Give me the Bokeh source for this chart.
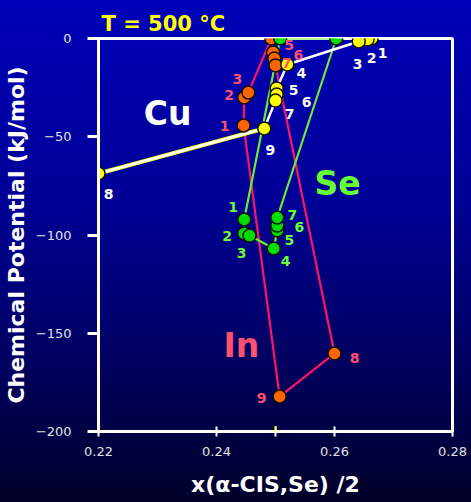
from bokeh.plotting import figure
from bokeh.models import FixedTicker, Range1d, Label, ColumnDataSource
from bokeh.core.properties import value
from bokeh.embed import file_html
from bokeh.resources import INLINE

# ---- data ----
x_ticks = [0.22, 0.24, 0.25, 0.26, 0.28]
hl_ticks = [0.25]
y_ticks = [0, -50, -100, -150, -200]

point_ids = ["1", "2", "3", "4", "5", "6", "7", "8", "9"]

cu_x = [0.2663, 0.2656, 0.2641, 0.2520, 0.2502, 0.2502, 0.2500, 0.2200, 0.2481]
cu_y = [0.0, -0.5, -1.5, -13.2, -25.4, -28.5, -31.6, -68.7, -45.8]
cu_path = [0, 1, 2, 3, 4, 5, 6, 8, 7]
cu_tail = [8, 7]

in_x = [0.2446, 0.2447, 0.2454, 0.2493, 0.2496, 0.2498, 0.2500, 0.2600, 0.2507]
in_y = [-44.3, -30.0, -27.5, 0.0, -7.1, -10.2, -13.7, -160.3, -182.2]
in_path = [0, 1, 2, 3, 4, 5, 6, 7, 8, 0]

se_x = [0.2447, 0.2447, 0.2456, 0.2497, 0.2503, 0.2503, 0.2503, 0.2603, 0.2508]
se_y = [-92.1, -99.2, -100.3, -106.9, -97.7, -95.2, -91.1, 0.0, 0.0]
se_path = [0, 1, 2, 3, 4, 5, 6, 7, 8, 0]

# ---- label placement (pixels) ----
cu_dx = [11, 4, -1, 14, 17, 30, 14, 10, 6]
cu_dy = [14, 19, 23, 9, 2, 7, 13, 21, 22]
in_dx = [-19, -15, -11, -8, 16, 24, 11, 20, -18]
in_dy = [0, -2, -14, -17, -7, -4, -2, 5, 1]
se_dx = [-11, -17, -8, 12, 12, 22, 15, 8, 6]
se_dy = [-12, 3, 17, 12, 10, 1, -3, -15, -15]

WHITE = "#ffffff"
TICKC = "#e0e0e0"
YELLOW = "#ffff00"
IN_LINE = "#ff1464"
IN_TEXT = "#ff5070"
IN_PT = "#ff6400"
SE_LINE = "#66ee33"
SE_TEXT = "#66ff33"
SE_PT = "#00dd00"

p = figure(width=471, height=502, output_backend="svg", toolbar_location=None,
           x_range=Range1d(0.22, 0.28), y_range=Range1d(-200, 0),
           min_border_left=97, min_border_right=19, min_border_top=38, min_border_bottom=71)
p.styles = {"background": "linear-gradient(to bottom, #0000b8 0%, #000096 40%, #00005a 75%, #000028 100%)"}
p.background_fill_alpha = 0
p.border_fill_alpha = 0
p.outline_line_color = WHITE
p.outline_line_width = 3
p.xgrid.visible = False
p.ygrid.visible = False

p.title.text = "T = 500 °C"
p.title.text_color = YELLOW
p.title.text_font = "DejaVu Sans"
p.title.text_font_size = "21px"
p.title.text_font_style = "bold"
p.title.align = "left"
p.title.offset = 3
p.title.standoff = 6

xa = p.xaxis[0]
xa.ticker = FixedTicker(ticks=x_ticks)
xa.major_label_overrides = {t: "" for t in hl_ticks}
xa.axis_line_color = WHITE
xa.axis_line_width = 3
xa.major_tick_line_color = WHITE
xa.major_tick_line_width = 2
xa.major_tick_in = 5
xa.major_tick_out = 5
xa.minor_tick_line_color = None
xa.major_label_text_color = TICKC
xa.major_label_text_font = "DejaVu Sans"
xa.major_label_text_font_size = "13px"
xa.major_label_standoff = 10
xa.axis_label = "x(α-CIS,Se) /2"
xa.axis_label_text_color = WHITE
xa.axis_label_text_font = "DejaVu Sans"
xa.axis_label_text_font_size = "22px"
xa.axis_label_text_font_style = "bold"
xa.axis_label_standoff = 13

ya = p.yaxis[0]
ya.ticker = FixedTicker(ticks=y_ticks)
ya.axis_line_color = WHITE
ya.axis_line_width = 3
ya.major_tick_line_color = WHITE
ya.major_tick_line_width = 3
ya.major_tick_in = 0
ya.major_tick_out = 11
ya.minor_tick_line_color = None
ya.major_label_text_color = TICKC
ya.major_label_text_font = "DejaVu Sans"
ya.major_label_text_font_size = "13px"
ya.major_label_standoff = 16
ya.axis_label = "Chemical Potential (kJ/mol)"
ya.axis_label_text_color = WHITE
ya.axis_label_text_font = "DejaVu Sans"
ya.axis_label_text_font_size = "22px"
ya.axis_label_text_font_style = "bold"
ya.axis_label_standoff = 4

# highlighted tick (0.25) in yellow
for t in hl_ticks:
    p.add_layout(Label(x=t, y=y_ticks[-1], text="|", text_color=YELLOW,
                       text_font="DejaVu Sans", text_font_style="bold", text_font_size="14px",
                       text_align="center", text_baseline="middle"))
    p.add_layout(Label(x=t, y=y_ticks[-1], y_offset=-22, text=f"{t:.2f}", text_color=YELLOW,
                       text_font="DejaVu Sans", text_font_style="bold", text_font_size="13px",
                       text_align="center", text_baseline="middle"))

def path(xs, ys, order):
    return [xs[i] for i in order], [ys[i] for i in order]

ix, iy = path(in_x, in_y, in_path)
p.line(ix, iy, line_color=IN_LINE, line_width=2.2)
sx, sy = path(se_x, se_y, se_path)
p.line(sx, sy, line_color=SE_LINE, line_width=2.2)
tx, ty = path(cu_x, cu_y, cu_tail)
p.line(tx, ty, line_color=YELLOW, line_width=4)
cx, cy = path(cu_x, cu_y, cu_path)
p.line(cx, cy, line_color=WHITE, line_width=2.5)

for xs, ys, fill in ((in_x, in_y, IN_PT), (cu_x, cu_y, YELLOW), (se_x, se_y, SE_PT)):
    p.scatter(xs, ys, size=13, fill_color=fill, line_color="#101010", line_width=1.5)

for xs, ys, dx, dy, col in ((in_x, in_y, in_dx, in_dy, IN_TEXT),
                            (se_x, se_y, se_dx, se_dy, SE_TEXT),
                            (cu_x, cu_y, cu_dx, cu_dy, WHITE)):
    src = ColumnDataSource(dict(x=xs, y=ys, t=point_ids, dx=dx, dy=dy))
    p.text(x="x", y="y", text="t", x_offset="dx", y_offset="dy", source=src,
           text_color=col, text_font=value("DejaVu Sans"), text_font_style="bold",
           text_font_size="14px", text_align="center", text_baseline="middle")

for txt, lx, ly, col in (("Cu", 0.2317, -38.2, WHITE), ("Se", 0.2605, -73.8, SE_TEXT),
                         ("In", 0.2442, -156.2, IN_TEXT)):
    p.add_layout(Label(x=lx, y=ly, text=txt, text_color=col, text_font="DejaVu Sans",
                       text_font_style="bold", text_font_size="33px",
                       text_align="center", text_baseline="middle"))

open("out.html", "w").write(file_html(p, INLINE))
